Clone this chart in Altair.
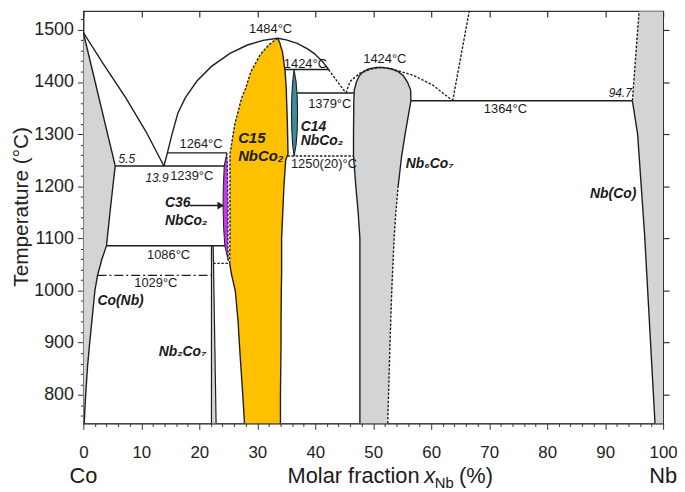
import altair as alt
import pandas as pd

LINE = "#1e1e1e"
GRAY = "#d3d4d6"
GOLD = "#ffc000"
TEAL = "#3b8d9b"
MAGENTA = "#cc33ee"
FONT = "Liberation Sans"

# ---------------- phase regions (T in degC, x = at.% Nb) ----------------
# Co(Nb) solid solution: from x=0 to boundary
conb_T = [745, 800, 856, 900, 950, 1000, 1029, 1060, 1086, 1150, 1200, 1239, 1495]
conb_x = [0.15, 0.4, 0.74, 1.1, 1.55, 2.0, 2.45, 3.2, 4.0, 4.6, 5.1, 5.5, 0.0]
# Nb2Co7
nb2co7_T = [745, 1086]
nb2co7_lo = [22.1, 22.1]
nb2co7_hi = [22.9, 22.4]
# C36 NbCo2
c36_T = [1057, 1086, 1120, 1160, 1200, 1239, 1264]
c36_lo = [25.0, 24.4, 24.2, 24.1, 24.15, 24.3, 24.75]
c36_hi = [25.0, 24.95, 24.95, 24.95, 24.9, 24.85, 24.75]
# C15 NbCo2
c15_T = [745, 800, 900, 940, 1000, 1034, 1052, 1100, 1200, 1250, 1262, 1318, 1369, 1388, 1420, 1450, 1458, 1470, 1475, 1484]
c15_lo = [27.8, 27.5, 26.9, 26.7, 26.2, 25.5, 25.25, 25.3, 25.3, 25.3, 25.3, 26.1, 27.3, 28.0, 28.9, 30.4, 30.9, 31.9, 32.4, 33.5]
c15_hi = [34.0, 34.0, 34.1, 34.1, 34.15, 34.2, 34.2, 34.2, 34.6, 34.9, 35.3, 35.2, 35.05, 35.0, 34.8, 34.45, 34.35, 34.0, 33.9, 33.5]
C15_SOLID_END = 6  # index of 1052 (left boundary solid below, dotted above)
# C14 NbCo2
c14_T = [1258, 1280, 1310, 1340, 1370, 1400, 1424]
c14_lo = [36.35, 36.1, 35.95, 35.9, 35.95, 36.1, 36.35]
c14_hi = [36.35, 36.7, 36.9, 36.95, 36.9, 36.7, 36.35]
# Nb6Co7
nb6_T = [745, 900, 1000, 1100, 1150, 1200, 1258, 1300, 1364, 1385, 1400, 1412, 1420, 1425, 1428]
nb6_lo = [47.7, 47.7, 47.7, 47.7, 47.4, 47.0, 46.6, 46.6, 46.65, 46.75, 47.1, 47.6, 48.3, 49.2, 50.6]
nb6_hi = [52.5, 52.9, 53.2, 53.6, 53.9, 54.3, 54.9, 55.5, 56.5, 56.45, 55.9, 55.2, 54.3, 53.2, 51.6]
NB6_DOT_END = 5  # right boundary dotted up to index (1200)
# Nb(Co) solid solution: boundary to x=100
nbco_T = [745, 1108, 1300, 1364, 1536]
nbco_x = [98.6, 96.8, 95.6, 94.7, 95.85]

# ---------------- lines ----------------
liq_co_T = [1495, 1434, 1370, 1305, 1239]
liq_co_x = [0.0, 3.5, 7.3, 10.8, 13.9]
liq_c15_T = [1239, 1264, 1300, 1340, 1370, 1402, 1430, 1455, 1471, 1480, 1484]
liq_c15_x = [13.9, 14.5, 15.3, 16.3, 17.6, 19.6, 22.1, 25.3, 28.3, 31.0, 33.5]
liq_c14_T = [1484, 1481, 1474, 1464, 1455, 1440, 1424]
liq_c14_x = [33.5, 35.0, 36.9, 38.6, 39.8, 41.2, 42.3]
liq_c14d_T = [1424, 1401, 1379]
liq_c14d_x = [42.3, 43.8, 45.3]
liq_nb6_T = [1379, 1401, 1417, 1426, 1428, 1426, 1413, 1394, 1364]
liq_nb6_x = [45.3, 46.0, 47.7, 50.0, 51.3, 52.9, 56.9, 60.3, 63.7]
liq_nb_T = [1364, 1550]
liq_nb_x = [63.7, 66.8]

# horizontal invariant lines: (T, x_start, x_end)
solid_h = [(1239, 5.5, 24.3), (1264, 14.5, 24.75), (1086, 4.0, 24.4),
           (1424, 34.75, 42.3), (1379, 36.85, 46.65), (1364, 56.5, 94.7)]
dotted_h = [(1052, 22.4, 25.25), (1258, 35.2, 46.6)]
dashdot_h = [(1029, 2.45, 22.1)]

# ---------------- labels ----------------
temp_lbl = ["1484°C", "1424°C", "1424°C", "1379°C", "1250(20)°C", "1364°C",
            "1264°C", "1239°C", "1086°C", "1029°C"]
temp_x = [32.3, 38.3, 52.0, 42.5, 41.5, 72.8, 20.3, 18.7, 14.7, 12.5]
temp_T = [1502, 1435, 1445, 1357, 1243, 1348, 1281, 1220, 1068, 1015]
comp_lbl = ["5.5", "13.9", "94.7"]
comp_x = [7.5, 12.7, 92.6]
comp_T = [1253, 1215, 1378]
phase_lbl = ["C15", "NbCo₂", "C14", "NbCo₂", "C36", "NbCo₂", "Nb₆Co₇", "Nb₂Co₇", "Co(Nb)", "Nb(Co)"]
phase_x = [26.7, 26.7, 37.5, 37.5, 14.1, 14.1, 55.6, 13.0, 2.45, 87.4]
phase_T = [1293, 1258, 1314, 1286, 1167, 1134, 1243, 882, 979, 1186]
phase_size = [15, 15, 14, 14, 14, 14, 14, 14, 14, 14]

# axis-title pieces
xt_lbl = ["Co", "Nb", "Molar fraction", "x", "Nb", "(%)"]
xt_x = [0.0, 100.0, 58.0, 58.8, 60.6, 64.8]
xt_T = [631, 631, 631, 631, 621, 631]
xt_align = ["center", "center", "right", "left", "left", "left"]
xt_style = ["normal", "normal", "normal", "italic", "normal", "normal"]
xt_size = [22, 22, 22, 22, 15, 22]

xs = alt.Scale(domain=[0, 100], nice=False, zero=False)
ys = alt.Scale(domain=[745, 1536], nice=False, zero=False)


def X(field, axis=None):
    return alt.X(field, type="quantitative", scale=xs, axis=axis)


def Y(field, axis=None):
    return alt.Y(field, type="quantitative", scale=ys, axis=axis)


def area(T, lo, hi, color):
    df = pd.DataFrame({"T": T, "lo": lo, "hi": hi})
    return alt.Chart(df).mark_area(orient="horizontal", color=color, clip=True).encode(
        y=Y("T"), x=X("lo"), x2="hi")


def line(xv, tv, dash=None, width=1.4):
    df = pd.DataFrame({"x": xv, "T": tv, "i": list(range(len(xv)))})
    kw = dict(color=LINE, strokeWidth=width, clip=True)
    if dash is not None:
        kw["strokeDash"] = dash
    return alt.Chart(df).mark_line(**kw).encode(x=X("x"), y=Y("T"), order="i:Q")


def texts(lbl, xv, tv, **kw):
    df = pd.DataFrame({"t": lbl, "x": xv, "T": tv})
    kw.setdefault("baseline", "middle")
    return alt.Chart(df).mark_text(font=FONT, color="#1a1a1a", **kw).encode(
        x=X("x"), y=Y("T"), text="t:N")


DOT = [2.5, 1.6]
layers = []

bottom_axis = alt.Axis(
    orient="bottom", values=list(range(0, 101, 2)),
    labelExpr="datum.value % 10 === 0 ? datum.label : ''",
    tickSize={"condition": {"test": "datum.value % 10 === 0", "value": 6}, "value": 3},
    labelFontSize=17, labelFont=FONT, labelColor="#222", labelPadding=15,
    labelOverlap=False, labelFlush=False, tickColor="#333", domainColor="#333",
    grid=False, title=None)
left_axis = alt.Axis(
    orient="left", values=list(range(760, 1537, 20)), format="d",
    labelExpr="datum.value % 100 === 0 ? datum.label : ''",
    tickSize={"condition": {"test": "datum.value % 100 === 0", "value": 6}, "value": 3},
    labelFontSize=18, labelFont=FONT, labelColor="#222", labelPadding=4,
    labelOverlap=False, labelFlush=False, tickColor="#333", domainColor="#333",
    grid=False, title="Temperature (°C)", titleFont=FONT, titleFontSize=21,
    titleFontWeight="normal", titleColor="#222", titleAngle=270,
    titleX=-62, titleY=197, titleAlign="center", titleBaseline="middle")

df_conb = pd.DataFrame({"T": conb_T, "hi": conb_x, "lo": [0.0] * len(conb_T)})
layers.append(alt.Chart(df_conb).mark_area(orient="horizontal", color=GRAY, clip=True).encode(
    y=Y("T", left_axis), x=X("lo", bottom_axis), x2="hi"))

top_axis = alt.Axis(orient="top", values=list(range(0, 101, 10)), labels=False, tickSize=6,
                    offset=-6, domain=False, tickColor="#333", tickWidth=1.2, grid=False, title=None)
right_axis = alt.Axis(orient="right", values=list(range(800, 1501, 100)), labels=False,
                      tickSize=6, domain=False, tickColor="#333", tickWidth=1.2, grid=False, title=None)
df_nbco = pd.DataFrame({"T": nbco_T, "lo": nbco_x, "hi": [100.0] * len(nbco_T)})
layers.append(alt.Chart(df_nbco).mark_area(orient="horizontal", color=GRAY, clip=True).encode(
    y=Y("T", right_axis), x=X("lo", top_axis), x2="hi"))

layers.append(area(nb2co7_T, nb2co7_lo, nb2co7_hi, GRAY))
layers.append(area(c15_T, c15_lo, c15_hi, GOLD))
layers.append(area(c36_T, c36_lo, c36_hi, MAGENTA))
layers.append(area(c14_T, c14_lo, c14_hi, TEAL))
layers.append(area(nb6_T, nb6_lo, nb6_hi, GRAY))

# region boundaries
layers.append(line([0.0, 5.5], [1495, 1239]))                        # Co(Nb) solidus
layers.append(line(conb_x[:12], conb_T[:12]))                         # Co(Nb) solvus
layers.append(line(liq_co_x, liq_co_T))
layers.append(line(liq_c15_x, liq_c15_T))
layers.append(line(liq_c14_x, liq_c14_T))
layers.append(line(liq_c14d_x, liq_c14d_T, DOT))
layers.append(line(liq_nb6_x, liq_nb6_T, DOT))
layers.append(line(liq_nb_x, liq_nb_T, DOT))
layers.append(line(nb2co7_lo, nb2co7_T, width=1.2))
layers.append(line(nb2co7_hi, nb2co7_T, width=1.2))
layers.append(line(c36_lo, c36_T, width=1.0))
layers.append(line(c36_hi, c36_T, DOT, width=1.2))
layers.append(line(c15_hi, c15_T))
layers.append(line(c15_lo[:C15_SOLID_END + 1], c15_T[:C15_SOLID_END + 1]))
layers.append(line(c15_lo[C15_SOLID_END:], c15_T[C15_SOLID_END:], DOT))
layers.append(line(c14_lo, c14_T, width=1.1))
layers.append(line(c14_hi, c14_T, width=1.1))
layers.append(line(nb6_lo + nb6_hi[::-1][:-NB6_DOT_END], nb6_T + nb6_T[::-1][:-NB6_DOT_END]))
layers.append(line(nb6_hi[:NB6_DOT_END + 1], nb6_T[:NB6_DOT_END + 1], DOT))
layers.append(line(nbco_x[:4], nbco_T[:4]))
layers.append(line(nbco_x[3:], nbco_T[3:], DOT))

for t, a, b in solid_h:
    layers.append(line([a, b], [t, t]))
for t, a, b in dotted_h:
    layers.append(line([a, b], [t, t], DOT))
for t, a, b in dashdot_h:
    layers.append(line([a, b], [t, t], [9, 3, 2, 3]))

# arrow to C36
arrow_x = [18.3, 23.4]
arrow_T = [1163, 1163]
layers.append(line(arrow_x, arrow_T, width=1.6))
layers.append(alt.Chart(pd.DataFrame({"x": [23.7], "T": [1163]})).mark_point(
    shape="triangle-right", filled=True, color=LINE, size=60, opacity=1).encode(x=X("x"), y=Y("T")))

# labels
layers.append(texts(temp_lbl, temp_x, temp_T, fontSize=13, align="center"))
layers.append(texts(comp_lbl, comp_x, comp_T, fontSize=12, align="center", fontStyle="italic"))
for s, xv, tv, fs in zip(phase_lbl, phase_x, phase_T, phase_size):
    layers.append(texts([s], [xv], [tv], fontSize=fs, align="left",
                        fontStyle="italic", fontWeight="bold"))
for s, xv, tv, al, st, fs in zip(xt_lbl, xt_x, xt_T, xt_align, xt_style, xt_size):
    layers.append(texts([s], [xv], [tv], fontSize=fs, align=al, fontStyle=st,
                        baseline="alphabetic"))

chart = alt.layer(*layers).resolve_axis(x="independent", y="independent").properties(
    width=585, height=416,
    autosize=alt.AutoSizeParams(type="none"),
    padding={"left": 76, "top": 1, "right": 14, "bottom": 66},
).configure_view(stroke="#333", strokeWidth=1.2)

chart.save("out.html", embed_options={"renderer": "svg", "actions": False})
